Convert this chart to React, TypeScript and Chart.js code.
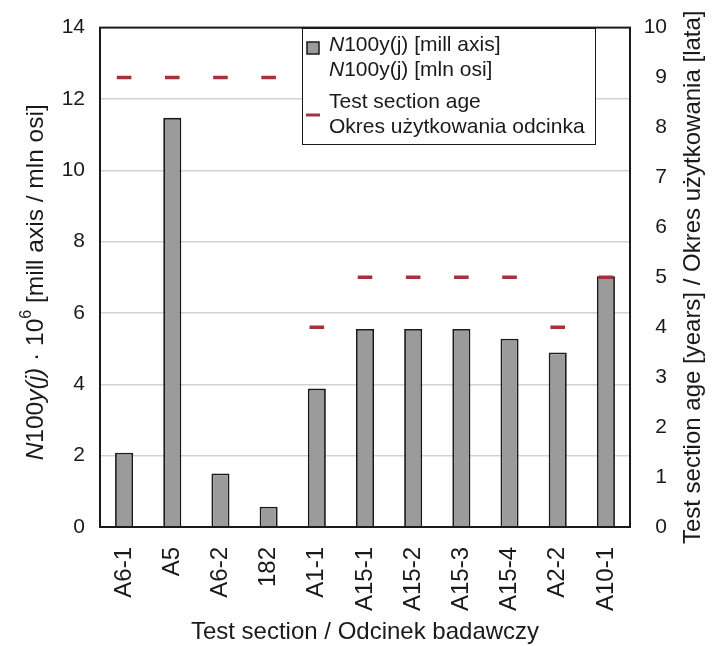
import React, { useEffect, useRef } from "react";
import { Chart, registerables } from "chart.js";

Chart.register(...registerables);

const categories = ["A6-1", "A5", "A6-2", "182", "A1-1", "A15-1", "A15-2", "A15-3", "A15-4", "A2-2", "A10-1"];
const n100Values = [2.08, 11.47, 1.5, 0.57, 3.88, 5.55, 5.55, 5.55, 5.28, 4.89, 7.03];
const ageYears = [9, 9, 9, 9, 4, 5, 5, 5, 5, 4, 5];

const leftAxisMax = 14;
const leftAxisStep = 2;
const rightAxisMax = 10;
const rightAxisStep = 1;

const xTitle = "Test section / Odcinek badawczy";
const rightTitle = "Test section age [years] / Okres użytkowania [lata]";
const legendBarLines = ["100y(j) [mill axis]", "100y(j) [mln osi]"];
const legendAgeLines = ["Test section age", "Okres użytkowania odcinka"];

const FONT = "'Liberation Sans', Arial, sans-serif";
const TEXT = "#1a1a1a";
const BAR_FILL = "#9b9b9b";
const BAR_BORDER = "#1a1a1a";
const DASH = "#a8303a";

const overlayPlugin = {
  id: "overlay",
  afterDraw(chart: any) {
    const ctx = chart.ctx as CanvasRenderingContext2D;
    const a = chart.chartArea;
    ctx.save();
    // frame
    ctx.strokeStyle = "#1a1a1a";
    ctx.lineWidth = 2;
    ctx.strokeRect(a.left, a.top, a.right - a.left, a.bottom - a.top);

    ctx.fillStyle = TEXT;
    ctx.textBaseline = "middle";
    const cy = (a.top + a.bottom) / 2;

    // left title with mixed styling
    const segs = [
      { t: "N", f: `italic 24.5px ${FONT}`, dy: 0 },
      { t: "100", f: `24.5px ${FONT}`, dy: 0 },
      { t: "y(j)", f: `italic 24.5px ${FONT}`, dy: 0 },
      { t: " · 10", f: `24.5px ${FONT}`, dy: 0 },
      { t: "6", f: `16px ${FONT}`, dy: -9 },
      { t: " [mill axis / mln osi]", f: `24.5px ${FONT}`, dy: 0 },
    ];
    let total = 0;
    for (const s of segs) {
      ctx.font = s.f;
      total += ctx.measureText(s.t).width;
    }
    ctx.save();
    ctx.translate(36, cy + 5);
    ctx.rotate(-Math.PI / 2);
    ctx.textAlign = "left";
    let x = -total / 2;
    for (const s of segs) {
      ctx.font = s.f;
      ctx.fillText(s.t, x, s.dy);
      x += ctx.measureText(s.t).width;
    }
    ctx.restore();

    // right title
    ctx.save();
    ctx.translate(693, cy);
    ctx.rotate(-Math.PI / 2);
    ctx.textAlign = "center";
    ctx.font = `24px ${FONT}`;
    ctx.fillText(rightTitle, 0, 0);
    ctx.restore();

    // x title
    ctx.textAlign = "center";
    ctx.font = `24px ${FONT}`;
    ctx.fillText(xTitle, (a.left + a.right) / 2, 632);

    // legend
    const lx = 302.5, ly = 28.5, lw = 293, lh = 116;
    ctx.fillStyle = "#ffffff";
    ctx.fillRect(lx, ly, lw, lh);
    ctx.strokeStyle = "#1a1a1a";
    ctx.lineWidth = 1;
    ctx.strokeRect(lx, ly, lw, lh);

    ctx.fillStyle = BAR_FILL;
    ctx.fillRect(307, 42, 12, 12);
    ctx.strokeStyle = BAR_BORDER;
    ctx.lineWidth = 1.5;
    ctx.strokeRect(307, 42, 12, 12);

    ctx.strokeStyle = DASH;
    ctx.lineWidth = 3;
    ctx.beginPath();
    ctx.moveTo(306, 115);
    ctx.lineTo(320, 115);
    ctx.stroke();

    ctx.fillStyle = TEXT;
    ctx.textAlign = "left";
    const rowsY = [45, 70, 102, 127];
    legendBarLines.forEach((line, i) => {
      ctx.font = `italic 21px ${FONT}`;
      ctx.fillText("N", 329, rowsY[i]);
      const w = ctx.measureText("N").width;
      ctx.font = `21px ${FONT}`;
      ctx.fillText(line, 329 + w, rowsY[i]);
    });
    legendAgeLines.forEach((line, i) => {
      ctx.font = `21px ${FONT}`;
      ctx.fillText(line, 329, rowsY[i + 2]);
    });
    ctx.restore();
  },
};

export default function App() {
  const ref = useRef<HTMLCanvasElement | null>(null);

  useEffect(() => {
    if (!ref.current) return;
    const chart = new Chart(ref.current, {
      type: "bar",
      data: {
        labels: categories,
        datasets: [
          {
            type: "line",
            label: "Test section age",
            data: ageYears,
            yAxisID: "y1",
            showLine: false,
            pointStyle: "line",
            pointRadius: 7.3,
            pointHoverRadius: 7.3,
            borderColor: DASH,
            backgroundColor: DASH,
            borderWidth: 3.5,
            order: 0,
          } as any,
          {
            type: "bar",
            label: "N100y(j)",
            data: n100Values,
            yAxisID: "y",
            backgroundColor: BAR_FILL,
            borderColor: BAR_BORDER,
            borderWidth: 1.8,
            barPercentage: 0.375,
            categoryPercentage: 1,
            order: 1,
          },
        ],
      },
      options: {
        responsive: true,
        maintainAspectRatio: false,
        animation: false,
        layout: { padding: { top: 22, left: 0, right: 51, bottom: 0 } },
        plugins: {
          legend: { display: false },
          tooltip: { enabled: false },
          title: { display: false },
        },
        scales: {
          x: {
            grid: { display: false, drawTicks: false },
            border: { display: true, color: "#1a1a1a", width: 2 },
            ticks: {
              color: TEXT,
              font: { family: FONT, size: 24 },
              maxRotation: 90,
              minRotation: 90,
              padding: 20,
              autoSkip: false,
            },
            afterFit: (s: any) => {
              s.height = 119;
            },
          },
          y: {
            position: "left",
            min: 0,
            max: leftAxisMax,
            grid: {
              color: (c: any) => (c.tick && (c.tick.value === 0 || c.tick.value === leftAxisMax) ? "rgba(0,0,0,0)" : "#d2d2d2"),
              lineWidth: 1.5,
              drawTicks: false,
            },
            border: { display: true, color: "#1a1a1a", width: 2 },
            ticks: {
              stepSize: leftAxisStep,
              color: TEXT,
              font: { family: FONT, size: 21 },
              padding: 15,
            },
            afterFit: (s: any) => {
              s.width = 100;
            },
          },
          y1: {
            position: "right",
            min: 0,
            max: rightAxisMax,
            grid: { display: false, drawTicks: false },
            border: { display: true, color: "#1a1a1a", width: 2 },
            ticks: {
              stepSize: rightAxisStep,
              color: TEXT,
              font: { family: FONT, size: 21 },
              padding: 14,
              crossAlign: "far",
            },
            afterFit: (s: any) => {
              s.width = 37;
            },
          },
        },
      },
      plugins: [overlayPlugin],
    });
    return () => chart.destroy();
  }, []);

  return (
    <div style={{ position: "fixed", left: 0, top: 0, width: 718, height: 646, background: "#fff" }}>
      <canvas ref={ref} />
    </div>
  );
}
